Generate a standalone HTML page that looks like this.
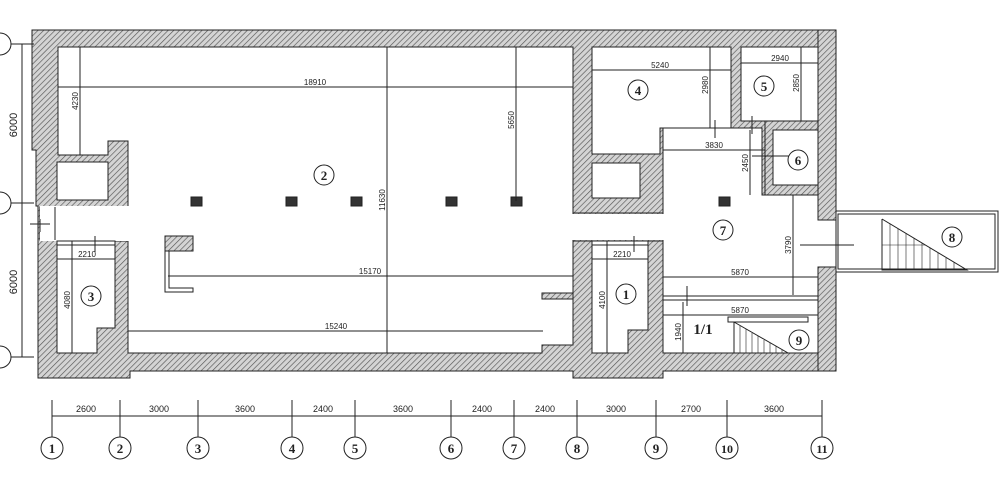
<!DOCTYPE html>
<html><head><meta charset="utf-8"><style>
html,body{margin:0;padding:0;background:#fff;}
svg{display:block;}
text{font-family:"Liberation Sans",sans-serif;fill:#222;}
.d text{font-size:9px;}
.n text{font-family:"Liberation Serif",serif;font-size:13px;font-weight:bold;}
</style></head><body>
<svg width="1000" height="481" viewBox="0 0 1000 481" xmlns="http://www.w3.org/2000/svg">
<defs>
<pattern id="h" width="4" height="4" patternUnits="userSpaceOnUse" patternTransform="rotate(45)">
<rect width="4" height="4" fill="#d4d4d4"/><line x1="0" y1="0" x2="0" y2="4" stroke="#555" stroke-width="1.3"/>
</pattern>
</defs>
<g stroke="#222" stroke-width="1">
<polygon fill="url(#h)" points="32,30 836,30 836,371 663,371 663,378 573,378 573,371 130,371 130,378 38,378 38,240 38,206 36,206 36,150 32,150"/>
<polygon fill="url(#h)" points="836,30 836,371 818,371 818,30"/>
<polygon fill="#fff" points="58,47 573,47 573,345 542,345 542,353 128,353 128,241 57,241 57,207 40,207 40,240 128,240 128,215 128,141 108,141 108,155 58,155"/>
<rect fill="#fff" x="40" y="206" width="90" height="35" stroke="none"/>
<rect fill="#fff" x="57" y="162" width="51" height="38"/>
<polygon fill="#fff" points="57,241 115,241 115,328 97,328 97,353 57,353"/>
<rect fill="#fff" x="592" y="163" width="48" height="35"/>
<polygon fill="#fff" points="592,47 731,47 731,128 660,128 660,154 592,154"/>
<rect fill="#fff" x="741" y="47" width="77" height="74"/>
<polygon fill="#fff" points="663,128 762,128 762,195 818,195 818,220 836,220 836,267 818,267 818,353 663,353"/>
<rect fill="#fff" stroke="none" x="572" y="214" width="93" height="26"/>
<line x1="573" y1="213" x2="663" y2="213"/><line x1="573" y1="241" x2="663" y2="241"/>
<rect fill="url(#h)" x="765" y="121" width="53" height="74"/>
<rect fill="#fff" x="773" y="130" width="45" height="55"/>
<polygon fill="#fff" points="592,241 648,241 648,330 628,330 628,353 592,353"/>
<rect fill="url(#h)" x="542" y="293" width="31" height="6"/>
<rect fill="url(#h)" x="165" y="236" width="28" height="15"/>
<polyline fill="none" points="165,251 165,292 193,292 193,288 169,288 169,251"/>
<g fill="#333"><rect x="191" y="197" width="11" height="9"/><rect x="286" y="197" width="11" height="9"/><rect x="351" y="197" width="11" height="9"/><rect x="446" y="197" width="11" height="9"/><rect x="511" y="197" width="11" height="9"/><rect x="719" y="197" width="11" height="9"/></g>
<line x1="58" y1="87" x2="573" y2="87"/>
<line x1="387" y1="47" x2="387" y2="353"/>
<line x1="80" y1="47" x2="80" y2="155"/>
<line x1="516" y1="47" x2="516" y2="201"/>
<line x1="168" y1="276" x2="573" y2="276"/>
<line x1="128" y1="331" x2="543" y2="331"/>
<line x1="57" y1="259" x2="115" y2="259"/>
<line x1="72" y1="241" x2="72" y2="353"/>
<line x1="57" y1="245" x2="115" y2="245"/><line x1="95" y1="236" x2="95" y2="252"/>
<line x1="592" y1="259" x2="648" y2="259"/>
<line x1="607" y1="241" x2="607" y2="353"/>
<line x1="592" y1="245" x2="648" y2="245"/><line x1="634" y1="236" x2="634" y2="252"/>
<line x1="592" y1="70" x2="731" y2="70"/>
<line x1="710" y1="47" x2="710" y2="128"/>
<line x1="741" y1="63" x2="818" y2="63"/>
<line x1="801" y1="47" x2="801" y2="121"/>
<line x1="663" y1="150" x2="765" y2="150"/>
<line x1="750" y1="130" x2="750" y2="195"/>
<line x1="752" y1="156" x2="790" y2="156"/>
<line x1="793" y1="195" x2="793" y2="295"/>
<line x1="663" y1="277" x2="818" y2="277"/>
<line x1="663" y1="296" x2="818" y2="296"/><line x1="663" y1="300" x2="818" y2="300"/>
<line x1="663" y1="315" x2="818" y2="315"/>
<line x1="683" y1="302" x2="683" y2="353"/>
<line x1="715" y1="120" x2="715" y2="138"/><line x1="752" y1="116" x2="752" y2="134"/>
<line x1="687" y1="286" x2="687" y2="306"/>
<line x1="40" y1="219" x2="40" y2="232"/><line x1="30" y1="224" x2="50" y2="224"/>
<line x1="55" y1="207" x2="55" y2="240"/>
<rect fill="#fff" x="728" y="317" width="80" height="5"/>
<polyline fill="none" points="734,322 734,353 788,353 734,322"/>
<g stroke-width="0.6"><line x1="740" y1="326" x2="740" y2="353"/><line x1="746" y1="329" x2="746" y2="353"/><line x1="752" y1="333" x2="752" y2="353"/><line x1="758" y1="336" x2="758" y2="353"/><line x1="764" y1="340" x2="764" y2="353"/><line x1="770" y1="343" x2="770" y2="353"/><line x1="776" y1="346" x2="776" y2="353"/><line x1="782" y1="350" x2="782" y2="353"/></g>
<rect fill="#fff" x="836" y="211" width="162" height="61"/>
<rect fill="none" x="838" y="214" width="157" height="55"/>
<line x1="800" y1="245" x2="854" y2="245"/>
<polyline fill="none" points="882,219 882,270 967,270 882,219"/>
<g stroke-width="0.6"><line x1="890" y1="224" x2="890" y2="270"/><line x1="898" y1="229" x2="898" y2="270"/><line x1="906" y1="233" x2="906" y2="270"/><line x1="914" y1="238" x2="914" y2="270"/><line x1="922" y1="243" x2="922" y2="270"/><line x1="930" y1="248" x2="930" y2="270"/><line x1="938" y1="253" x2="938" y2="270"/><line x1="946" y1="258" x2="946" y2="270"/><line x1="954" y1="262" x2="954" y2="270"/><line x1="882" y1="245" x2="925" y2="245"/></g>
<line x1="22" y1="44" x2="22" y2="357"/>
<line x1="8" y1="44" x2="34" y2="44"/><line x1="8" y1="203" x2="34" y2="203"/><line x1="8" y1="357" x2="34" y2="357"/>
<circle cx="0" cy="44" r="11" fill="#fff"/><circle cx="0" cy="203" r="11" fill="#fff"/><circle cx="0" cy="357" r="11" fill="#fff"/>
<line x1="52" y1="416" x2="822" y2="416"/>
<g>
<line x1="52" y1="400" x2="52" y2="437"/><line x1="120" y1="400" x2="120" y2="437"/><line x1="198" y1="400" x2="198" y2="437"/><line x1="292" y1="400" x2="292" y2="437"/><line x1="355" y1="400" x2="355" y2="437"/><line x1="451" y1="400" x2="451" y2="437"/><line x1="514" y1="400" x2="514" y2="437"/><line x1="577" y1="400" x2="577" y2="437"/><line x1="656" y1="400" x2="656" y2="437"/><line x1="727" y1="400" x2="727" y2="437"/><line x1="822" y1="400" x2="822" y2="437"/>
</g>
<g fill="#fff">
<circle cx="52" cy="448" r="11"/><circle cx="120" cy="448" r="11"/><circle cx="198" cy="448" r="11"/><circle cx="292" cy="448" r="11"/><circle cx="355" cy="448" r="11"/><circle cx="451" cy="448" r="11"/><circle cx="514" cy="448" r="11"/><circle cx="577" cy="448" r="11"/><circle cx="656" cy="448" r="11"/><circle cx="727" cy="448" r="11"/><circle cx="822" cy="448" r="11"/>
<circle cx="324" cy="175" r="10"/><circle cx="91" cy="296" r="10"/><circle cx="638" cy="90" r="10"/><circle cx="764" cy="86" r="10"/><circle cx="798" cy="160" r="10"/><circle cx="723" cy="230" r="10"/><circle cx="952" cy="237" r="10"/><circle cx="626" cy="294" r="10"/><circle cx="799" cy="340" r="10"/>
</g>
</g>
<g class="n" text-anchor="middle">
<text x="52" y="453">1</text><text x="120" y="453">2</text><text x="198" y="453">3</text><text x="292" y="453">4</text><text x="355" y="453">5</text><text x="451" y="453">6</text><text x="514" y="453">7</text><text x="577" y="453">8</text><text x="656" y="453">9</text><text x="727" y="453" style="font-size:12px">10</text><text x="822" y="453" style="font-size:12px">11</text>
<text x="324" y="180">2</text><text x="91" y="301">3</text><text x="638" y="95">4</text><text x="764" y="91">5</text><text x="798" y="165">6</text><text x="723" y="235">7</text><text x="952" y="242">8</text><text x="626" y="299">1</text><text x="799" y="345">9</text>
<text x="703" y="334" style="font-size:15px">1/1</text>
</g>
<g class="d" text-anchor="middle">
<text x="86" y="412">2600</text><text x="159" y="412">3000</text><text x="245" y="412">3600</text><text x="323" y="412">2400</text><text x="403" y="412">3600</text><text x="482" y="412">2400</text><text x="545" y="412">2400</text><text x="616" y="412">3000</text><text x="691" y="412">2700</text><text x="774" y="412">3600</text>
<text x="315" y="85" style="font-size:8px">18910</text>
<text x="370" y="274" style="font-size:8px">15170</text>
<text x="336" y="329" style="font-size:8px">15240</text>
<text x="87" y="257" style="font-size:8px">2210</text>
<text x="622" y="257" style="font-size:8px">2210</text>
<text x="660" y="68" style="font-size:8px">5240</text>
<text x="780" y="61" style="font-size:8px">2940</text>
<text x="714" y="148" style="font-size:8px">3830</text>
<text x="740" y="275" style="font-size:8px">5870</text>
<text x="740" y="313" style="font-size:8px">5870</text>
<text transform="translate(17,125) rotate(-90)" style="font-size:11px">6000</text>
<text transform="translate(17,282) rotate(-90)" style="font-size:11px">6000</text>
<text transform="translate(78,101) rotate(-90)" style="font-size:8px">4230</text>
<text transform="translate(514,120) rotate(-90)" style="font-size:8px">5650</text>
<text transform="translate(385,200) rotate(-90)" style="font-size:8px">11630</text>
<text transform="translate(70,300) rotate(-90)" style="font-size:8px">4080</text>
<text transform="translate(605,300) rotate(-90)" style="font-size:8px">4100</text>
<text transform="translate(708,85) rotate(-90)" style="font-size:8px">2980</text>
<text transform="translate(799,83) rotate(-90)" style="font-size:8px">2850</text>
<text transform="translate(748,163) rotate(-90)" style="font-size:8px">2450</text>
<text transform="translate(791,245) rotate(-90)" style="font-size:8px">3790</text>
<text transform="translate(681,332) rotate(-90)" style="font-size:8px">1940</text>
</g>
</svg>
</body></html>
